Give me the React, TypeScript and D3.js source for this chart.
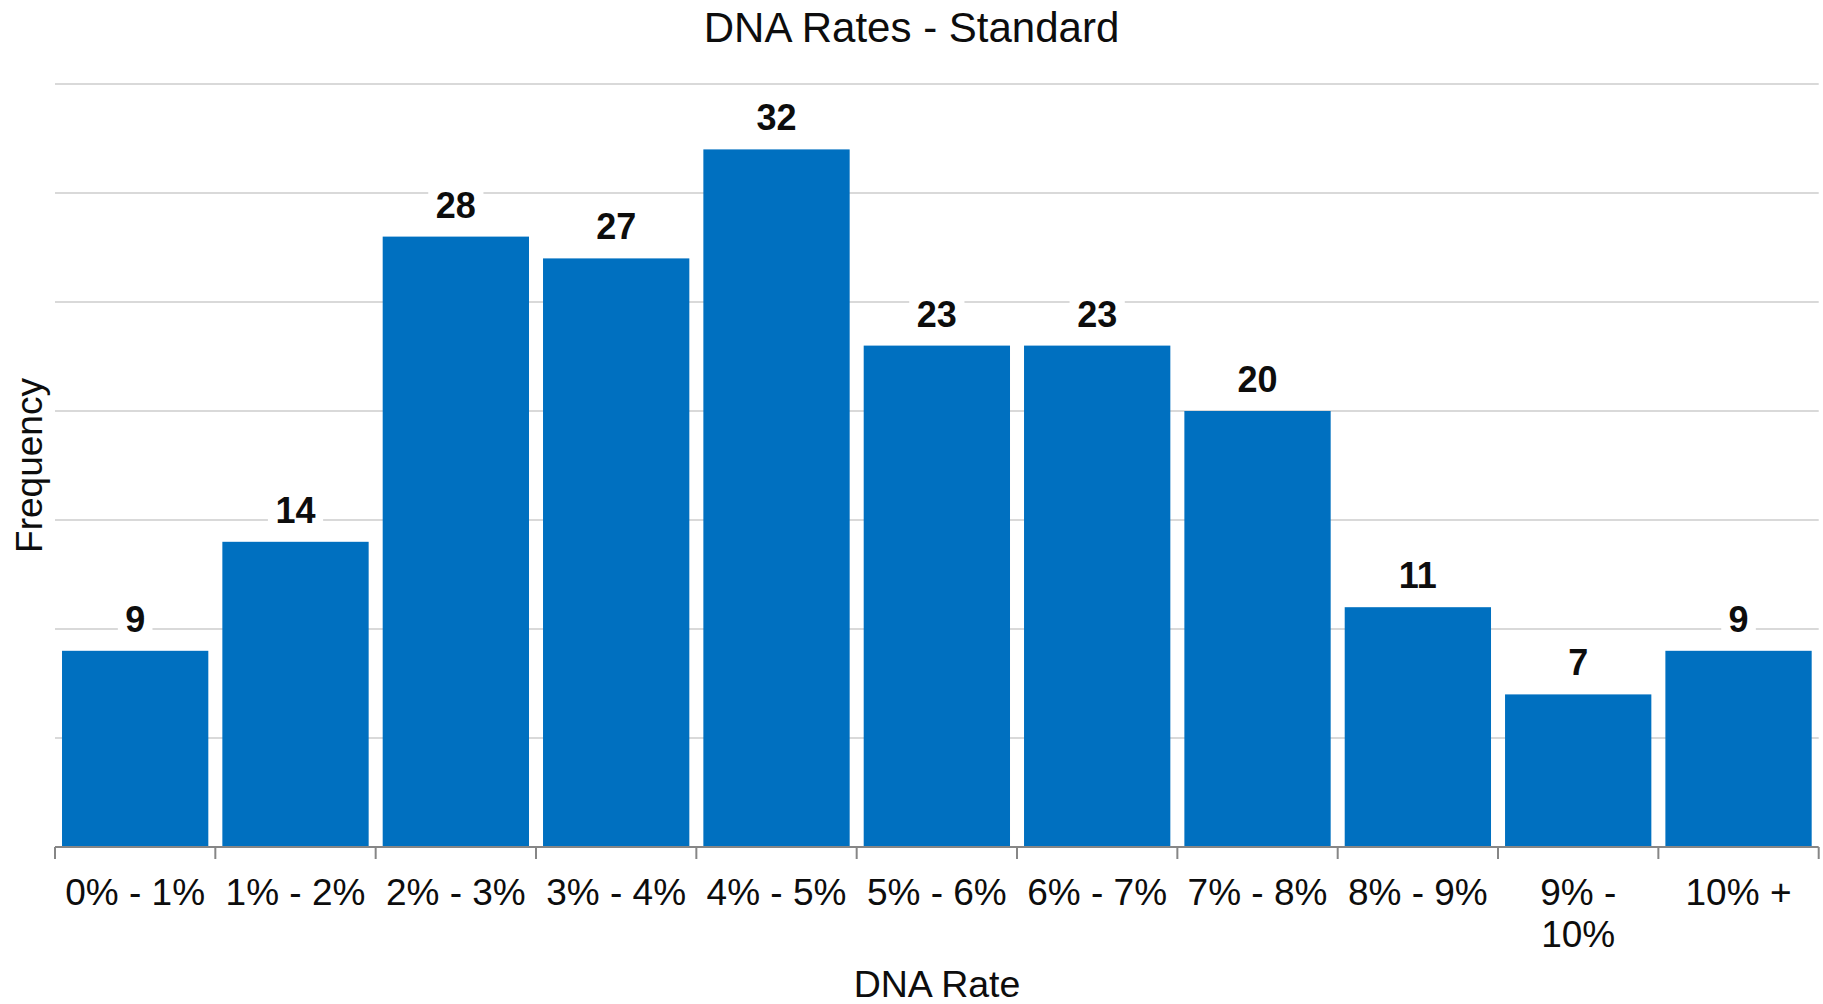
import React from "react";
import * as d3 from "d3";

const categories = ["0% - 1%", "1% - 2%", "2% - 3%", "3% - 4%", "4% - 5%", "5% - 6%", "6% - 7%", "7% - 8%", "8% - 9%", "9% - 10%", "10% +"];
const categoryLines = [["0% - 1%"], ["1% - 2%"], ["2% - 3%"], ["3% - 4%"], ["4% - 5%"], ["5% - 6%"], ["6% - 7%"], ["7% - 8%"], ["8% - 9%"], ["9% -", "10%"], ["10% +"]];
const frequencies = [9, 14, 28, 27, 32, 23, 23, 20, 11, 7, 9];
const yTicks = [0, 5, 10, 15, 20, 25, 30, 35];
const title = "DNA Rates - Standard";
const xTitle = "DNA Rate";
const yTitle = "Frequency";

const W = 1823;
const H = 1004;
const left = 55;
const right = 1818.7;
const top = 84;
const bottom = 847;
const FONT = "'Liberation Sans', Arial, sans-serif";

export default function App() {
  const x = d3.scaleBand<string>().domain(categories).range([left, right]).paddingInner(0.0875).paddingOuter(0.04375);
  const y = d3.scaleLinear().domain([0, 35]).range([bottom, top]);
  const step = x.step();
  const boundaries = categories.map((c) => (x(c) as number) - step * 0.04375).concat([right]);

  return (
    <svg width={W} height={H} style={{ position: "absolute", left: 0, top: 0, background: "#fff" }} fontFamily={FONT}>
      <rect x={0} y={0} width={W} height={H} fill="#fff" />
      <text x={911.5} y={41.5} fontSize={42} textAnchor="middle" fill="#0d0d0d">{title}</text>
      {yTicks.filter((t) => t > 0).map((t) => (
        <line key={t} x1={left} x2={right} y1={y(t)} y2={y(t)} stroke="#d9d9d9" strokeWidth={2} />
      ))}
      {categories.map((c, i) => (
        <rect key={c} x={x(c)} y={y(frequencies[i])} width={x.bandwidth()} height={bottom - y(frequencies[i])} fill="#0070c0" />
      ))}
      <line x1={left} x2={right} y1={bottom} y2={bottom} stroke="#868686" strokeWidth={2} />
      {boundaries.map((b, i) => (
        <line key={i} x1={b} x2={b} y1={bottom} y2={bottom + 12} stroke="#868686" strokeWidth={2} />
      ))}
      {categories.map((c, i) => {
        const cx = (x(c) as number) + x.bandwidth() / 2;
        const by = y(frequencies[i]) - 19;
        const label = String(frequencies[i]);
        const w = label.length * 20.6 + 14;
        return (
          <g key={c}>
            <rect x={cx - w / 2} y={by - 30} width={w} height={38} fill="#fff" />
            <text x={cx} y={by} fontSize={36} fontWeight="bold" textAnchor="middle" fill="#0d0d0d">{label}</text>
          </g>
        );
      })}
      {categories.map((c, i) => {
        const cx = (x(c) as number) + x.bandwidth() / 2;
        return (
          <text key={c} x={cx} y={905} fontSize={37} textAnchor="middle" fill="#0d0d0d">
            {categoryLines[i].map((ln, j) => (
              <tspan key={j} x={cx} dy={j === 0 ? 0 : 42}>{ln}</tspan>
            ))}
          </text>
        );
      })}
      <text x={937} y={997} fontSize={37.5} textAnchor="middle" fill="#0d0d0d">{xTitle}</text>
      <text transform={`translate(41.5, ${(top + bottom) / 2}) rotate(-90)`} fontSize={37} textAnchor="middle" fill="#0d0d0d">{yTitle}</text>
    </svg>
  );
}
